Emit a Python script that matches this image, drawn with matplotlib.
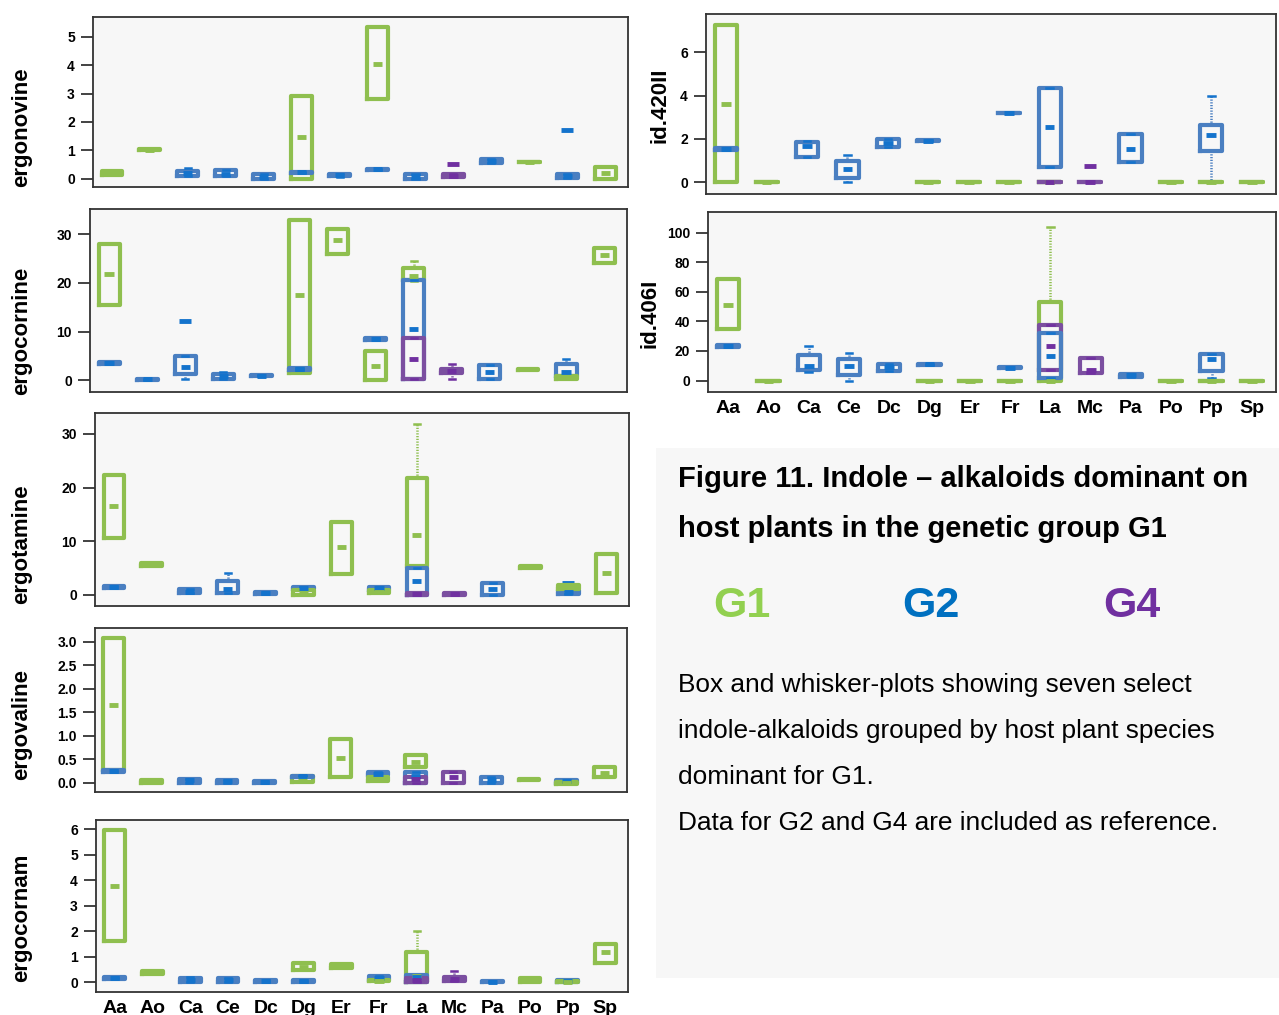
import matplotlib
matplotlib.use("Agg")
import matplotlib.pyplot as plt
from matplotlib.patches import Rectangle

plt.rcParams['font.family'] = ['Liberation Sans', 'DejaVu Sans']

hosts = ["Aa", "Ao", "Ca", "Ce", "Dc", "Dg", "Er", "Fr", "La", "Mc", "Pa", "Po", "Pp", "Sp"]

# (host, group, lower whisker, q1, median, q3, upper whisker)
ergonovine = [
    ("Aa", "G1", 0.12, 0.12, 0.2, 0.27, 0.27),
    ("Ao", "G1", 1.0, 1.0, 1.02, 1.04, 1.04),
    ("Ca", "G2", 0.08, 0.08, 0.2, 0.25, 0.38),
    ("Ce", "G2", 0.08, 0.08, 0.15, 0.3, 0.3),
    ("Dc", "G2", 0.0, 0.0, 0.07, 0.15, 0.15),
    ("Dg", "G1", 0.0, 0.0, 1.45, 2.9, 2.9),
    ("Dg", "G2", 0.2, 0.2, 0.22, 0.22, 0.22),
    ("Er", "G2", 0.05, 0.1, 0.14, 0.16, 0.16),
    ("Fr", "G1", 2.8, 2.8, 4.03, 5.35, 5.35),
    ("Fr", "G2", 0.3, 0.3, 0.33, 0.34, 0.34),
    ("La", "G2", 0.0, 0.0, 0.07, 0.15, 0.15),
    ("Mc", "G4", 0.04, 0.04, 0.1, 0.16, 0.16),
    ("Pa", "G2", 0.55, 0.55, 0.62, 0.7, 0.7),
    ("Po", "G1", 0.57, 0.57, 0.59, 0.6, 0.6),
    ("Pp", "G2", 0.03, 0.03, 0.1, 0.16, 0.16),
    ("Sp", "G1", 0.0, 0.0, 0.2, 0.4, 0.4),
]
ergonovine_out = [("Mc", "G4", 0.52), ("Pp", "G2", 1.72)]

ergocornine = [
    ("Aa", "G1", 15.5, 15.5, 21.8, 28.0, 28.0),
    ("Aa", "G2", 3.4, 3.4, 3.6, 3.8, 3.8),
    ("Ao", "G2", 0.1, 0.1, 0.2, 0.3, 0.3),
    ("Ca", "G2", 0.3, 1.4, 2.8, 5.0, 5.0),
    ("Ce", "G2", 0.3, 0.3, 0.8, 1.4, 1.8),
    ("Dc", "G2", 0.8, 0.8, 0.9, 1.0, 1.0),
    ("Dg", "G1", 1.6, 1.6, 17.5, 33.0, 33.0),
    ("Dg", "G2", 2.1, 2.1, 2.3, 2.5, 2.5),
    ("Er", "G1", 26.0, 26.0, 28.8, 31.0, 31.0),
    ("Fr", "G2", 8.2, 8.2, 8.4, 8.6, 8.6),
    ("Fr", "G1", 0.0, 0.0, 2.9, 6.0, 6.0),
    ("La", "G1", 20.5, 20.7, 21.5, 23.1, 24.5),
    ("La", "G2", 0.2, 0.2, 10.6, 20.7, 20.7),
    ("La", "G4", 0.2, 0.2, 4.4, 8.7, 8.7),
    ("Mc", "G4", 0.2, 1.6, 1.9, 2.4, 3.4),
    ("Pa", "G2", 0.3, 0.3, 1.7, 3.1, 3.1),
    ("Po", "G1", 2.2, 2.2, 2.3, 2.4, 2.4),
    ("Pp", "G2", 0.9, 0.9, 1.8, 3.4, 4.3),
    ("Pp", "G1", 0.3, 0.3, 0.5, 0.8, 0.8),
    ("Sp", "G1", 24.1, 24.1, 25.7, 27.2, 27.2),
]
ergocornine_out = [("Ca", "G2", 12.1)]

ergotamine = [
    ("Aa", "G1", 10.6, 10.6, 16.5, 22.3, 22.3),
    ("Aa", "G2", 1.2, 1.2, 1.4, 1.6, 1.6),
    ("Ao", "G1", 5.3, 5.3, 5.6, 6.0, 6.0),
    ("Ca", "G2", 0.25, 0.25, 0.6, 1.0, 1.0),
    ("Ce", "G2", 0.3, 0.3, 1.0, 2.5, 4.1),
    ("Dc", "G2", 0.05, 0.05, 0.3, 0.55, 0.55),
    ("Dg", "G2", 1.0, 1.0, 1.2, 1.4, 1.4),
    ("Dg", "G1", 0.0, 0.0, 0.3, 0.8, 0.8),
    ("Er", "G1", 3.8, 3.8, 8.9, 13.6, 13.6),
    ("Fr", "G2", 0.9, 0.9, 1.2, 1.4, 1.4),
    ("Fr", "G1", 0.4, 0.4, 0.6, 0.8, 0.8),
    ("La", "G1", 5.3, 5.3, 11.2, 21.8, 31.9),
    ("La", "G2", 0.0, 0.0, 2.5, 5.0, 5.0),
    ("La", "G4", 0.0, 0.0, 0.2, 0.4, 0.4),
    ("Mc", "G4", 0.0, 0.0, 0.2, 0.4, 0.4),
    ("Pa", "G2", 0.0, 0.0, 1.1, 2.2, 2.2),
    ("Po", "G1", 4.9, 4.9, 5.1, 5.3, 5.3),
    ("Pp", "G2", 0.2, 0.2, 0.5, 0.9, 0.9),
    ("Pp", "G1", 1.0, 1.0, 1.5, 1.9, 1.9),
    ("Sp", "G1", 0.4, 0.4, 4.1, 7.6, 7.6),
]
ergotamine_out = [("Pp", "G2", 2.1)]

ergovaline = [
    ("Aa", "G1", 0.26, 0.26, 1.66, 3.08, 3.08),
    ("Aa", "G2", 0.23, 0.23, 0.25, 0.26, 0.26),
    ("Ao", "G1", 0.0, 0.0, 0.02, 0.05, 0.05),
    ("Ca", "G2", 0.0, 0.0, 0.05, 0.08, 0.08),
    ("Ce", "G2", 0.0, 0.0, 0.03, 0.06, 0.06),
    ("Dc", "G2", 0.0, 0.0, 0.02, 0.04, 0.04),
    ("Dg", "G1", 0.02, 0.02, 0.08, 0.15, 0.15),
    ("Dg", "G2", 0.12, 0.12, 0.13, 0.14, 0.14),
    ("Er", "G1", 0.12, 0.12, 0.53, 0.93, 0.93),
    ("Fr", "G2", 0.16, 0.16, 0.19, 0.22, 0.22),
    ("Fr", "G1", 0.04, 0.04, 0.07, 0.11, 0.11),
    ("La", "G1", 0.33, 0.33, 0.44, 0.58, 0.58),
    ("La", "G2", 0.0, 0.0, 0.15, 0.22, 0.22),
    ("La", "G4", 0.0, 0.0, 0.07, 0.12, 0.12),
    ("Mc", "G4", 0.0, 0.0, 0.12, 0.22, 0.22),
    ("Pa", "G2", 0.0, 0.0, 0.06, 0.12, 0.12),
    ("Po", "G1", 0.06, 0.06, 0.07, 0.08, 0.08),
    ("Pp", "G2", 0.0, 0.0, 0.03, 0.06, 0.06),
    ("Pp", "G1", -0.02, -0.02, 0.0, 0.02, 0.02),
    ("Sp", "G1", 0.12, 0.12, 0.2, 0.33, 0.33),
]

ergocornam = [
    ("Aa", "G1", 1.62, 1.62, 3.79, 5.96, 5.96),
    ("Aa", "G2", 0.13, 0.13, 0.16, 0.19, 0.19),
    ("Ao", "G1", 0.34, 0.34, 0.4, 0.46, 0.46),
    ("Ca", "G2", 0.0, 0.0, 0.1, 0.16, 0.2),
    ("Ce", "G2", 0.0, 0.0, 0.08, 0.16, 0.16),
    ("Dc", "G2", 0.0, 0.0, 0.05, 0.1, 0.1),
    ("Dg", "G1", 0.47, 0.47, 0.62, 0.77, 0.77),
    ("Dg", "G2", 0.0, 0.0, 0.05, 0.09, 0.09),
    ("Er", "G1", 0.57, 0.57, 0.63, 0.7, 0.7),
    ("Fr", "G2", 0.1, 0.1, 0.16, 0.23, 0.23),
    ("Fr", "G1", 0.05, 0.05, 0.07, 0.1, 0.1),
    ("La", "G1", 0.0, 0.0, 0.25, 1.18, 2.0),
    ("La", "G2", 0.0, 0.0, 0.2, 0.3, 0.3),
    ("La", "G4", 0.0, 0.0, 0.1, 0.16, 0.16),
    ("Mc", "G4", 0.07, 0.07, 0.13, 0.2, 0.43),
    ("Pa", "G2", 0.0, 0.0, 0.03, 0.07, 0.07),
    ("Po", "G1", 0.03, 0.03, 0.1, 0.16, 0.16),
    ("Pp", "G2", 0.0, 0.0, 0.05, 0.09, 0.09),
    ("Pp", "G1", 0.0, 0.0, 0.03, 0.07, 0.07),
    ("Sp", "G1", 0.77, 0.77, 1.18, 1.52, 1.52),
]

id420II = [
    ("Aa", "G1", 0.0, 0.0, 3.6, 7.26, 7.26),
    ("Aa", "G2", 1.5, 1.5, 1.54, 1.58, 1.58),
    ("Ao", "G1", 0.0, 0.0, 0.0, 0.0, 0.0),
    ("Ca", "G2", 1.15, 1.15, 1.66, 1.85, 1.92),
    ("Ce", "G2", 0.0, 0.2, 0.62, 1.0, 1.28),
    ("Dc", "G2", 1.62, 1.62, 1.8, 2.0, 2.0),
    ("Dg", "G2", 1.9, 1.9, 1.92, 1.94, 1.94),
    ("Dg", "G1", 0.0, 0.0, 0.0, 0.0, 0.0),
    ("Er", "G1", 0.0, 0.0, 0.0, 0.0, 0.0),
    ("Fr", "G2", 3.18, 3.18, 3.2, 3.22, 3.22),
    ("Fr", "G1", 0.0, 0.0, 0.0, 0.0, 0.0),
    ("La", "G2", 0.69, 0.69, 2.54, 4.34, 4.34),
    ("La", "G1", 0.0, 0.0, 0.0, 0.0, 0.0),
    ("La", "G4", 0.0, 0.0, 0.0, 0.0, 0.0),
    ("Mc", "G4", 0.0, 0.0, 0.0, 0.0, 0.0),
    ("Pa", "G2", 0.92, 0.92, 1.54, 2.23, 2.23),
    ("Po", "G1", 0.0, 0.0, 0.0, 0.0, 0.0),
    ("Pp", "G2", 0.0, 1.43, 2.2, 2.65, 4.0),
    ("Pp", "G1", 0.0, 0.0, 0.0, 0.0, 0.0),
    ("Sp", "G1", 0.0, 0.0, 0.0, 0.0, 0.0),
]
id420II_out = [("Mc", "G4", 0.77)]

id406I = [
    ("Aa", "G1", 34.8, 34.8, 51.4, 68.9, 68.9),
    ("Aa", "G2", 23.0, 23.0, 23.4, 23.8, 23.8),
    ("Ao", "G1", 0.0, 0.0, 0.0, 0.0, 0.0),
    ("Ca", "G2", 5.9, 7.5, 9.8, 17.3, 23.4),
    ("Ce", "G2", 0.0, 4.1, 10.2, 14.8, 18.9),
    ("Dc", "G2", 6.8, 6.8, 9.0, 11.4, 11.4),
    ("Dg", "G2", 10.5, 10.5, 10.9, 11.3, 11.3),
    ("Dg", "G1", 0.0, 0.0, 0.0, 0.0, 0.0),
    ("Er", "G1", 0.0, 0.0, 0.0, 0.0, 0.0),
    ("Fr", "G2", 8.2, 8.2, 8.6, 9.0, 9.0),
    ("Fr", "G1", 0.0, 0.0, 0.0, 0.0, 0.0),
    ("La", "G1", 0.0, 0.0, 0.0, 53.0, 104.0),
    ("La", "G4", 7.5, 7.5, 23.4, 37.5, 37.5),
    ("La", "G2", 1.8, 1.8, 16.6, 32.0, 32.0),
    ("Mc", "G4", 5.2, 5.2, 7.5, 15.5, 15.5),
    ("Pa", "G2", 2.3, 2.3, 3.5, 4.5, 4.5),
    ("Po", "G1", 0.0, 0.0, 0.0, 0.0, 0.0),
    ("Pp", "G2", 1.8, 6.4, 14.3, 17.7, 17.7),
    ("Pp", "G1", 0.0, 0.0, 0.0, 0.0, 0.0),
    ("Sp", "G1", 0.0, 0.0, 0.0, 0.0, 0.0),
]

box_col = {"G1": "#8fbf4f", "G2": "#4a7fc1", "G4": "#7b4fa0"}
mid_col = {"G1": "#8fbf4f", "G2": "#1473cc", "G4": "#7030a0"}
narrow = ['Liberation Sans Narrow', 'Liberation Sans', 'DejaVu Sans']


def draw_boxes(ax, rows, outliers=()):
    for cat, grp, lo, q1, med, q3, hi in rows:
        x = hosts.index(cat) + 1
        fl = [v for c, g, v in outliers if c == cat and g == grp]
        st = dict(whislo=lo, q1=q1, med=med, q3=q3, whishi=hi, fliers=fl)
        ax.bxp([st], positions=[x], widths=0.55, capwidths=0.16, manage_ticks=False,
               boxprops=dict(color=box_col[grp], lw=3, solid_joinstyle='round'),
               whiskerprops=dict(color=box_col[grp], lw=1.8, ls=(0, (0.5, 0.6))),
               capprops=dict(color=mid_col[grp], lw=1.8),
               medianprops=dict(lw=0),
               flierprops=dict(marker='_', markersize=9, mew=3.5, mec=mid_col[grp]))
        ax.hlines(med, x - 0.12, x + 0.12, color=mid_col[grp], lw=3.5, zorder=3)


def style_axes(ax, ylim, yticks, fmt="{:g}", xlabels=False):
    ax.set_facecolor("#f7f7f7")
    ax.set_xlim(0.5, 14.6)
    ax.set_ylim(*ylim)
    ax.set_yticks(yticks)
    ax.set_yticklabels([fmt.format(t) for t in yticks], family=narrow, weight='bold', fontsize=10)
    ax.tick_params(axis='y', length=9, width=1.2, pad=4, color="#222222")
    for s in ax.spines.values():
        s.set_color("#333333")
        s.set_linewidth(1.3)
    if xlabels:
        ax.set_xticks(range(1, 15))
        ax.set_xticklabels(hosts, family=narrow, weight='bold', fontsize=14)
        ax.tick_params(axis='x', length=0, pad=6)
    else:
        ax.set_xticks([])


W, H = 1279, 1015
fig = plt.figure(figsize=(W / 100, H / 100), dpi=100)


def add_panel(x0, y0, x1, y1):
    return fig.add_axes([x0 / W, 1 - y1 / H, (x1 - x0) / W, (y1 - y0) / H])


# caption background on the right
fig.patches.append(Rectangle((656 / W, 1 - 978 / H), 1 - 656 / W, (978 - 448) / H,
                             transform=fig.transFigure, facecolor="#f7f7f7", edgecolor='none', zorder=0))

ax = add_panel(93, 17, 628, 187)
draw_boxes(ax, ergonovine, ergonovine_out)
style_axes(ax, (-0.3, 5.7), [0, 1, 2, 3, 4, 5])
fig.text(22 / W, 1 - 127 / H, "ergonovine", rotation=90, ha='center', va='center', fontsize=16, weight='bold')

ax = add_panel(90, 209, 627, 392)
draw_boxes(ax, ergocornine, ergocornine_out)
style_axes(ax, (-2.4, 35.2), [0, 10, 20, 30])
fig.text(22 / W, 1 - 331 / H, "ergocornine", rotation=90, ha='center', va='center', fontsize=16, weight='bold')

ax = add_panel(95, 413, 629, 606)
draw_boxes(ax, ergotamine, ergotamine_out)
style_axes(ax, (-2.1, 33.9), [0, 10, 20, 30])
fig.text(22 / W, 1 - 544 / H, "ergotamine", rotation=90, ha='center', va='center', fontsize=16, weight='bold')

ax = add_panel(95, 628, 627, 792)
draw_boxes(ax, ergovaline)
style_axes(ax, (-0.2, 3.29), [0, 0.5, 1.0, 1.5, 2.0, 2.5, 3.0], fmt="{:.1f}")
fig.text(22 / W, 1 - 725 / H, "ergovaline", rotation=90, ha='center', va='center', fontsize=16, weight='bold')

ax = add_panel(96, 820, 628, 992)
draw_boxes(ax, ergocornam)
style_axes(ax, (-0.38, 6.37), [0, 1, 2, 3, 4, 5, 6], xlabels=True)
fig.text(22 / W, 1 - 918 / H, "ergocornam", rotation=90, ha='center', va='center', fontsize=16, weight='bold')

ax = add_panel(706, 14, 1276, 194)
draw_boxes(ax, id420II, id420II_out)
style_axes(ax, (-0.54, 7.77), [0, 2, 4, 6])
fig.text(660 / W, 1 - 105 / H, "id.420II", rotation=90, ha='center', va='center', fontsize=16, weight='bold')

ax = add_panel(708, 212, 1276, 392)
draw_boxes(ax, id406I)
style_axes(ax, (-7.7, 113.9), [0, 20, 40, 60, 80, 100], xlabels=True)
fig.text(650 / W, 1 - 313 / H, "id.406I", rotation=90, ha='center', va='center', fontsize=16, weight='bold')

# caption
fig.text(678 / W, 1 - 487 / H, "Figure 11. Indole \u2013 alkaloids dominant on", fontsize=21, weight='bold')
fig.text(678 / W, 1 - 537 / H, "host plants in the genetic group G1", fontsize=21, weight='bold')
fig.text(713 / W, 1 - 617 / H, "G1", fontsize=31, weight='bold', color="#92d050")
fig.text(902 / W, 1 - 617 / H, "G2", fontsize=31, weight='bold', color="#0070c0")
fig.text(1103 / W, 1 - 617 / H, "G4", fontsize=31, weight='bold', color="#7030a0")

body = ["Box and whisker-plots showing seven select",
        "indole-alkaloids grouped by host plant species",
        "dominant for G1.",
        "Data for G2 and G4 are included as reference."]
for i, line in enumerate(body):
    fig.text(678 / W, 1 - (692 + 46 * i) / H, line, fontsize=18.9)

fig.savefig("out.png", dpi=100)
